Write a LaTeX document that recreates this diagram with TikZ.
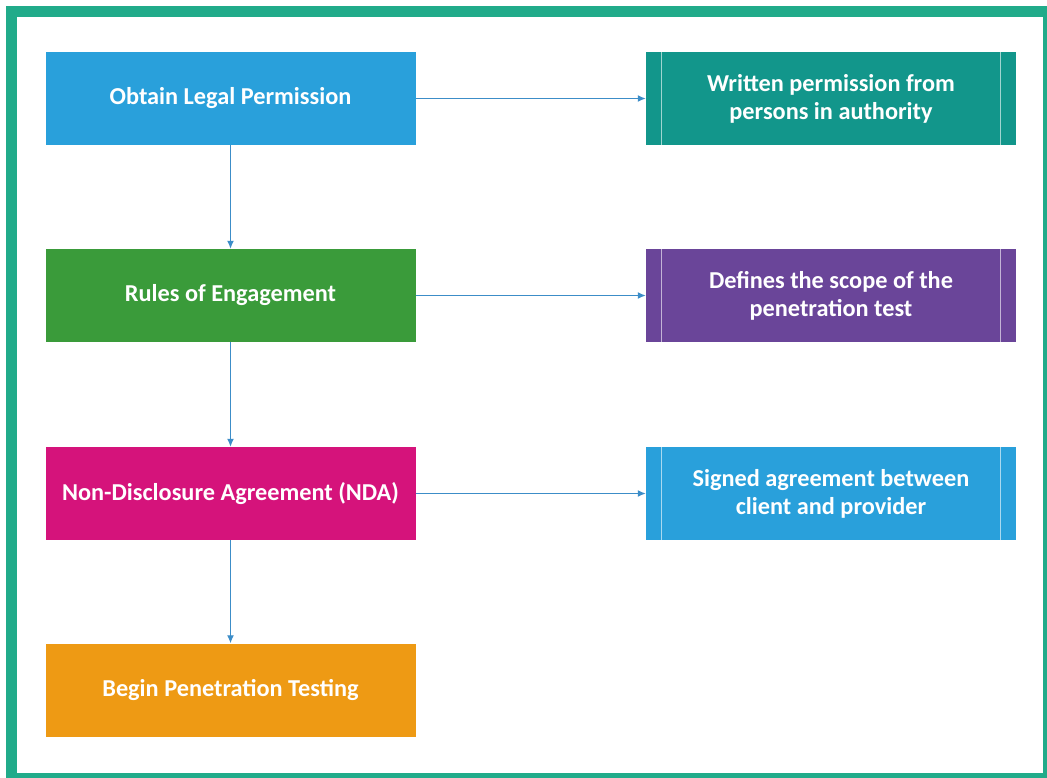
\documentclass[tikz,border=0pt]{standalone}
\usepackage{fontspec}
\setmainfont{Carlito}
\usetikzlibrary{arrows.meta}
\definecolor{framegreen}{HTML}{21AB8A}
\definecolor{stepblue}{HTML}{29A0DB}
\definecolor{stepteal}{HTML}{12968B}
\definecolor{stepgreen}{HTML}{3A9B3A}
\definecolor{steppurple}{HTML}{6A4599}
\definecolor{stepmagenta}{HTML}{D5137B}
\definecolor{steporange}{HTML}{EE9A14}
\definecolor{linkblue}{HTML}{3C8DC8}
\tikzset{
    stepbox/.style={minimum width=370pt, minimum height=93pt, inner sep=0pt,
        text=white, font=\fontsize{24.3}{28}\selectfont\bfseries, align=center},
    notebox/.style={stepbox},
    link/.style={draw=linkblue, line width=1.3pt, -{Latex[length=8pt,width=7pt]}}
}
\begin{document}
\begin{tikzpicture}[x=1pt, y=-1pt]
                \useasboundingbox (0, 0) rectangle (1047, 777);
                \clip (0, 0) rectangle (1047, 777);
                \fill[framegreen] (6, 6) rectangle (1060, 790);
                \fill[white] (17, 17) rectangle (1043, 773);

                \node[stepbox, fill=stepblue] (legal) at (230.5, 98.5) {Obtain Legal Permission};
                \node[stepbox, fill=stepgreen] (rules) at (230.5, 295.5) {Rules of Engagement};
                \node[stepbox, fill=stepmagenta] (nda) at (230.5, 493.5) {Non-Disclosure Agreement (NDA)};
                \node[stepbox, fill=steporange] (begin) at (230.5, 690) {Begin Penetration Testing};

                \node[notebox, fill=stepteal] (written) at (831, 98.5) {Written permission from\\persons in authority};
                \node[notebox, fill=steppurple] (scope) at (831, 295.5) {Defines the scope of the\\penetration test};
                \node[notebox, fill=stepblue] (signed) at (831, 493.5) {Signed agreement between\\client and provider};

                \foreach \n in {written, scope, signed} {
                    \draw[white, opacity=0.6, line width=0.8pt]
                        ([xshift=16pt]\n.north west) -- ([xshift=16pt]\n.south west)
                        ([xshift=-16pt]\n.north east) -- ([xshift=-16pt]\n.south east);
                }

                \draw[link] (legal) -- (rules);
                \draw[link] (rules) -- (nda);
                \draw[link] (nda) -- (begin);
                \draw[link] (legal) -- (written);
                \draw[link] (rules) -- (scope);
                \draw[link] (nda) -- (signed);
            \end{tikzpicture}
\end{document}
